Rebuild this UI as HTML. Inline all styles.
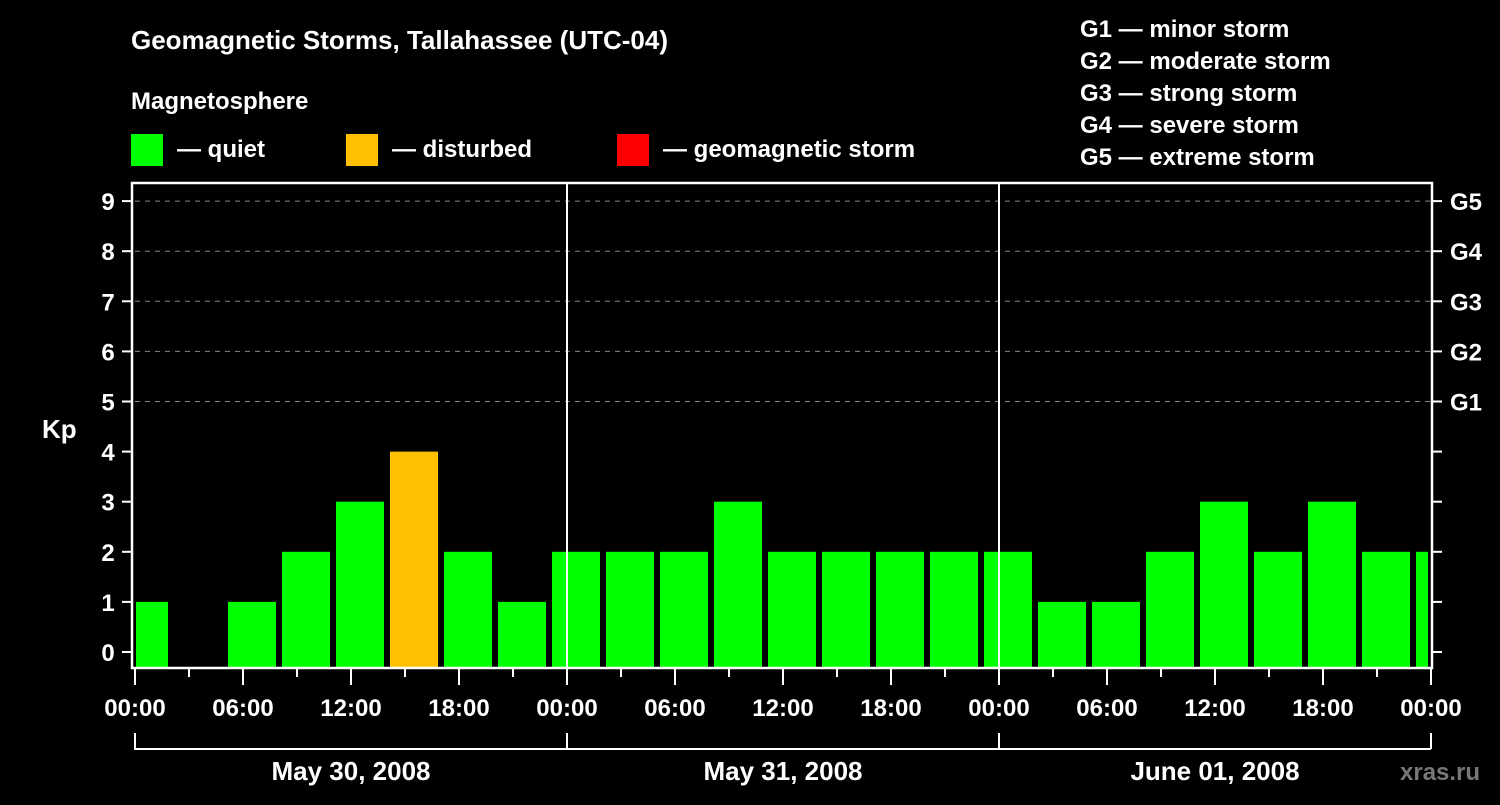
<!DOCTYPE html>
<html><head><meta charset="utf-8"><style>
body{margin:0;background:#000;width:1500px;height:800px;overflow:hidden}
svg text{font-family:"Liberation Sans",sans-serif;font-weight:bold;fill:#fff}
</style></head><body>
<svg id="c" width="1500" height="800" viewBox="0 0 1500 800">
<text x="131" y="49" font-size="26">Geomagnetic Storms, Tallahassee (UTC-04)</text>
<text x="131" y="109" font-size="24">Magnetosphere</text>
<g><rect x="131" y="134" width="32" height="32" fill="#00ff00"/><text x="177" y="157" font-size="24">— quiet</text></g>
<g><rect x="346" y="134" width="32" height="32" fill="#ffc000"/><text x="392" y="157" font-size="24">— disturbed</text></g>
<g><rect x="617" y="134" width="32" height="32" fill="#ff0000"/><text x="663" y="157" font-size="24">— geomagnetic storm</text></g>
<g font-size="24">
<text x="1080" y="37">G1 — minor storm</text><text x="1080" y="69">G2 — moderate storm</text><text x="1080" y="101">G3 — strong storm</text><text x="1080" y="133">G4 — severe storm</text><text x="1080" y="165">G5 — extreme storm</text></g>
<text x="42" y="438" font-size="26">Kp</text>
<g id="grid"></g><g id="bars"></g><g id="axes"></g>
<text x="1400" y="780" font-size="24" fill="#777" style="fill:#777">xras.ru</text>
</svg>
<script>
const kpValues=[1,0,1,2,3,4,2,1,2,2,2,3,2,2,2,2,2,1,1,2,3,2,3,2,2];
const gLabels=["G1","G2","G3","G4","G5"];
const dayLabels=["May 30, 2008","May 31, 2008","June 01, 2008"];
const hourLabels=["00:00","06:00","12:00","18:00"];
const NS="http://www.w3.org/2000/svg";
const X0=135,X1=1430,DAY=432,HOURPX=18,YT=183,YB=668;
const firstStartHour=-1;
function xs(h){return X0+h*HOURPX;}
function ys(v){return 652-v*50.1;}
function mk(t,a,p){const e=document.createElementNS(NS,t);for(const k in a)e.setAttribute(k,a[k]);p.appendChild(e);return e;}
const grid=document.getElementById('grid'),bars=document.getElementById('bars'),axes=document.getElementById('axes');
for(let v=5;v<=9;v++){const l=mk('line',{x1:X0,x2:X1,y1:ys(v),y2:ys(v),stroke:'#888','stroke-width':1,'stroke-dasharray':'5,5'},grid);

}
kpValues.forEach((v,i)=>{
 const h0=firstStartHour+3*i;let a=xs(h0)+3,b=xs(h0+3)-3;a=Math.max(a,X0+1);b=Math.min(b,X1-2);
 if(b<=a||v<=0)return;
 const col=v>=5?'#ff0000':(v>=4?'#ffc000':'#00ff00');
 const r=mk('rect',{x:a,y:ys(v),width:b-a,height:YB-ys(v),fill:col},bars);
 
 
});
const fr=mk('rect',{x:132,y:YT,width:1300,height:YB-YT,fill:'none',stroke:'#fff','stroke-width':2.5},axes);


for(let d=1;d<3;d++){const l=mk('line',{x1:X0+d*DAY,x2:X0+d*DAY,y1:YT,y2:YB,stroke:'#fff','stroke-width':2},axes);

}
for(let v=0;v<=9;v++){
 mk('line',{x1:122,x2:132,y1:ys(v),y2:ys(v),stroke:'#fff','stroke-width':2},axes);
 mk('line',{x1:1432,x2:1442,y1:ys(v),y2:ys(v),stroke:'#fff','stroke-width':2},axes);
 const t=mk('text',{x:108,y:ys(v)+9,'font-size':24,'text-anchor':'middle'},axes);t.textContent=v;
 
 
 if(v>=5){const g=mk('text',{x:1450,y:ys(v)+9,'font-size':24},axes);g.textContent=gLabels[v-5];
 
 }
}
for(let h=0;h<=72;h+=3){const x=xs(h);const major=h%6===0;
 mk('line',{x1:x,x2:x,y1:669,y2:major?685:677,stroke:'#fff','stroke-width':2},axes);
 if(major){const t=mk('text',{x:x,y:716,'font-size':24,'text-anchor':'middle'},axes);t.textContent=hourLabels[(h%24)/6];
 
 }}
for(let d=0;d<3;d++){const a=X0+d*DAY,b=a+DAY;
 mk('path',{d:`M${a} 733V749H${b}`+(d==2?`M${b} 733V749`:''),stroke:'#fff','stroke-width':2,fill:'none'},axes);
 const t=mk('text',{x:a+DAY/2,y:780,'font-size':26,'text-anchor':'middle'},axes);t.textContent=dayLabels[d];
 
 }
</script>
</body></html>
